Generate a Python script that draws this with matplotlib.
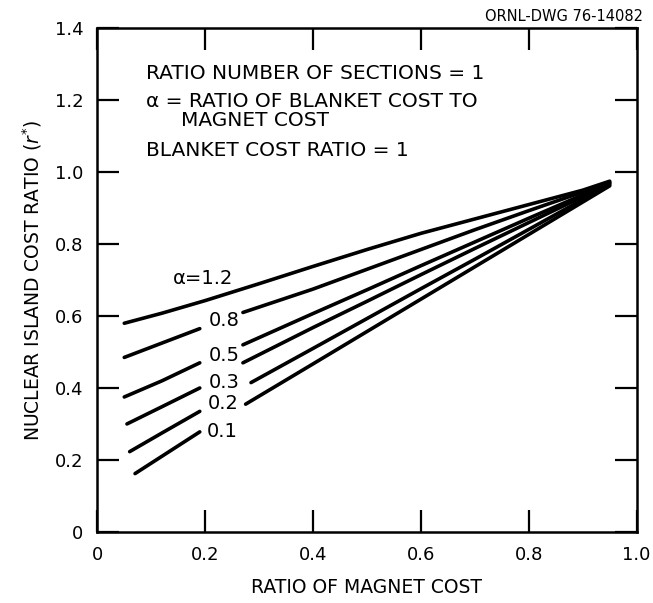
import matplotlib
matplotlib.use('Agg')
import matplotlib.pyplot as plt

# curves of nuclear island cost ratio vs ratio of magnet cost, one per alpha
alphas = ['1.2', '0.8', '0.5', '0.3', '0.2', '0.1']
label_text = ['α=1.2', '0.8', '0.5', '0.3', '0.2', '0.1']

# left part of each curve (before the label gap)
x_left = [
    [0.05, 0.12, 0.2, 0.3, 0.4, 0.5, 0.6, 0.7, 0.8, 0.9, 0.95],
    [0.05, 0.12, 0.19],
    [0.05, 0.12, 0.19],
    [0.055, 0.12, 0.19],
    [0.06, 0.12, 0.19],
    [0.07, 0.13, 0.19],
]
y_left = [
    [0.58, 0.608, 0.643, 0.69, 0.738, 0.785, 0.83, 0.87, 0.91, 0.95, 0.975],
    [0.485, 0.525, 0.565],
    [0.375, 0.42, 0.47],
    [0.30, 0.348, 0.40],
    [0.223, 0.275, 0.335],
    [0.162, 0.22, 0.278],
]
# right part (after the label gap); alpha=1.2 has no gap
x_right = [
    [],
    [0.27, 0.4, 0.5, 0.6, 0.7, 0.8, 0.9, 0.95],
    [0.27, 0.4, 0.5, 0.6, 0.7, 0.8, 0.9, 0.95],
    [0.27, 0.4, 0.5, 0.6, 0.7, 0.8, 0.9, 0.95],
    [0.285, 0.4, 0.5, 0.6, 0.7, 0.8, 0.9, 0.95],
    [0.275, 0.4, 0.5, 0.6, 0.7, 0.8, 0.9, 0.95],
]
y_right = [
    [],
    [0.61, 0.675, 0.73, 0.785, 0.84, 0.893, 0.945, 0.972],
    [0.52, 0.607, 0.673, 0.74, 0.806, 0.872, 0.937, 0.97],
    [0.47, 0.568, 0.641, 0.715, 0.788, 0.86, 0.932, 0.968],
    [0.415, 0.51, 0.593, 0.676, 0.758, 0.841, 0.924, 0.965],
    [0.355, 0.467, 0.557, 0.647, 0.737, 0.827, 0.917, 0.962],
]
label_x = [0.196, 0.235, 0.235, 0.235, 0.233, 0.231]
label_y = [0.705, 0.589, 0.489, 0.414, 0.358, 0.278]

xticks = [0, 0.2, 0.4, 0.6, 0.8, 1.0]
xticklabels = ['0', '0.2', '0.4', '0.6', '0.8', '1.0']
yticks = [0, 0.2, 0.4, 0.6, 0.8, 1.0, 1.2, 1.4]
yticklabels = ['0', '0.2', '0.4', '0.6', '0.8', '1.0', '1.2', '1.4']

plt.rcParams['font.family'] = ['DejaVu Sans']

fig = plt.figure(figsize=(6.53, 6.03), dpi=100)
ax = fig.add_axes([0.149, 0.118, 0.826, 0.835])

for i in range(len(alphas)):
    ax.plot(x_left[i], y_left[i], color='black', lw=2.6, solid_capstyle='round')
    if x_right[i]:
        ax.plot(x_right[i], y_right[i], color='black', lw=2.6, solid_capstyle='round')
    ax.text(label_x[i], label_y[i], label_text[i], fontsize=14, ha='center', va='center')

ax.set_xlim(0, 1.0)
ax.set_ylim(0, 1.4)
ax.set_xticks(xticks)
ax.set_xticklabels(xticklabels)
ax.set_yticks(yticks)
ax.set_yticklabels(yticklabels)
ax.tick_params(direction='in', length=16, width=1.6, top=True, right=True,
               labelsize=13, pad=10)
for s in ax.spines.values():
    s.set_linewidth(1.8)

ax.text(0.09, 1.275, 'RATIO NUMBER OF SECTIONS = 1', fontsize=14.5, va='center')
ax.text(0.09, 1.197, 'α = RATIO OF BLANKET COST TO', fontsize=14.5, va='center')
ax.text(0.155, 1.144, 'MAGNET COST', fontsize=14.5, va='center')
ax.text(0.09, 1.061, 'BLANKET COST RATIO = 1', fontsize=14.5, va='center')

ax.set_xlabel('RATIO OF MAGNET COST', fontsize=13.5, labelpad=10)
ax.set_ylabel('NUCLEAR ISLAND COST RATIO ($r^{*}$)', fontsize=13.5, labelpad=8)

fig.text(0.985, 0.985, 'ORNL-DWG 76-14082', fontsize=10.5, ha='right', va='top')

plt.savefig('out.png', dpi=100)
